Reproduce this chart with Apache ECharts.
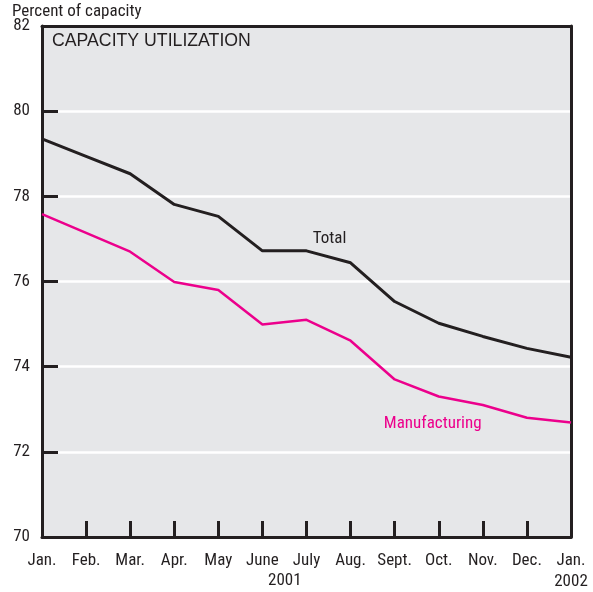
<!DOCTYPE html>
<html><head><meta charset="utf-8">
<script src="https://cdn.jsdelivr.net/npm/echarts@6/dist/echarts.min.js"></script>
<style>html,body{margin:0;padding:0;background:#fff}#c{width:593px;height:592px}</style>
</head><body><div id="c"></div>
<script>
var months = ['Jan.','Feb.','Mar.','Apr.','May','June','July','Aug.','Sept.','Oct.','Nov.','Dec.','Jan.'];
var total = [79.35, 78.94, 78.53, 77.81, 77.53, 76.72, 76.72, 76.44, 75.53, 75.02, 74.71, 74.43, 74.22];
var manufacturing = [77.58, 77.14, 76.70, 75.99, 75.80, 74.99, 75.10, 74.61, 73.70, 73.30, 73.10, 72.80, 72.69];
var yTicks = [70, 72, 74, 76, 78, 80, 82];
var years = ['2001', '2002'];

var NARROW = '"Liberation Sans Narrow", "Arial Narrow", "Roboto Condensed", sans-serif';
var DARK = '#231f20';
var MAG = '#ec008c';

function withLabel(arr, idx, text, offset, color) {
  return arr.map(function (v, i) {
    if (i !== idx) return v;
    return { value: v, label: { show: true, formatter: text, offset: offset, color: color,
      fontFamily: NARROW, fontSize: 17, position: 'inside' } };
  });
}

var chart = echarts.init(document.getElementById('c'));
chart.setOption({
  animation: false,
  backgroundColor: '#fff',
  grid: { left: 42, right: 22, top: 26, bottom: 53, show: true, backgroundColor: '#e6e7e9', borderWidth: 0 },
  xAxis: [{
    type: 'category', data: months, boundaryGap: false,
    axisLine: { lineStyle: { color: DARK, width: 3 } },
    axisTick: { inside: true, length: 16, lineStyle: { color: DARK, width: 3 },
      interval: function (i) { return i > 0 && i < months.length - 1; } },
    axisLabel: { color: DARK, fontFamily: NARROW, fontSize: 17, margin: 13, interval: 0,
      formatter: function (v, i) { return i === months.length - 1 ? v + '\n' + years[1] : v; },
      lineHeight: 21, verticalAlign: 'top' },
    splitLine: { show: false }
  }, {
    type: 'category', data: months, boundaryGap: false, position: 'top',
    axisLine: { lineStyle: { color: DARK, width: 3 } },
    axisTick: { show: false }, axisLabel: { show: false }, splitLine: { show: false }
  }],
  yAxis: [{
    type: 'value', min: yTicks[0], max: yTicks[yTicks.length - 1], interval: 2,
    axisLine: { show: true, lineStyle: { color: DARK, width: 3 } },
    axisTick: { show: true, inside: true, length: 16, lineStyle: { color: DARK, width: 3 } },
    axisLabel: { color: DARK, fontFamily: NARROW, fontSize: 17, margin: 12 },
    splitLine: { show: true, lineStyle: { color: '#ffffff', width: 2.5 } }
  }, {
    type: 'value', min: yTicks[0], max: yTicks[yTicks.length - 1], interval: 2, position: 'right',
    axisLine: { show: true, lineStyle: { color: DARK, width: 3 } },
    axisTick: { show: false }, axisLabel: { show: false }, splitLine: { show: false }
  }],
  graphic: [
    { type: 'text', left: 12, top: 3, style: { text: 'Percent of capacity', fill: DARK, font: '17px ' + NARROW } },
    { type: 'text', left: 52, top: 32, style: { text: 'CAPACITY UTILIZATION', fill: DARK, font: '17.7px "Liberation Sans", Arial, sans-serif' } },
    { type: 'text', left: 268, top: 572, style: { text: years[0], fill: DARK, font: '17px ' + NARROW } }
  ],
  series: [{
    type: 'line', data: withLabel(total, 6, 'Total', [23, -12], DARK),
    showSymbol: true, symbolSize: 0, symbol: 'circle',
    lineStyle: { color: DARK, width: 3 }, itemStyle: { color: DARK }, z: 3
  }, {
    type: 'line', data: withLabel(manufacturing, 9, 'Manufacturing', [-6, 27], MAG),
    showSymbol: true, symbolSize: 0, symbol: 'circle',
    lineStyle: { color: MAG, width: 2.5 }, itemStyle: { color: MAG }, z: 3
  }]
});
</script></body></html>
